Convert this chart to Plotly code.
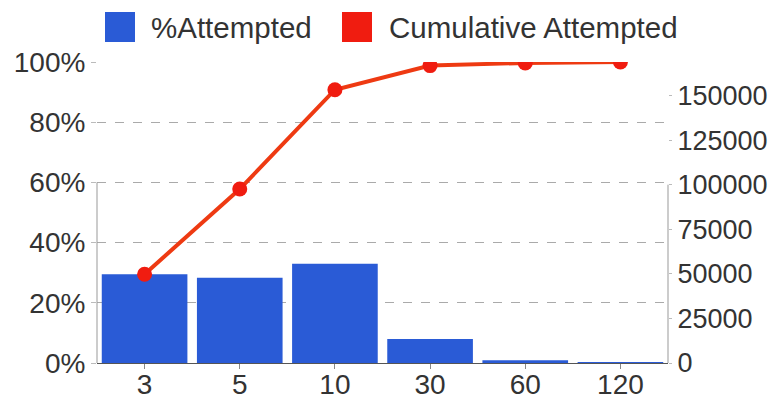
import plotly.graph_objects as go

categories = ["3", "5", "10", "30", "60", "120"]
pct_attempted = [29.5, 28.3, 33.0, 8.0, 0.9, 0.3]
cumulative_attempted = [29.5, 57.8, 90.8, 98.8, 99.7, 100.0]
left_ticks = [0, 20, 40, 60, 80, 100]
left_labels = ["0%", "20%", "40%", "60%", "80%", "100%"]
right_ticks = [0, 25000, 50000, 75000, 100000, 125000, 150000]
right_labels = ["0", "25000", "50000", "75000", "100000", "125000", "150000"]
right_max = 168800

BLUE = "#2a5bd6"
RED = "#f01c10"
FONT = "Liberation Sans, Arial, sans-serif"
TXT = "#333333"

# page body adds an 8px margin; size the figure so the page does not overflow
W, H = 761, 391
L, R, T, B = 89, 101, 54, 36
PW, PH = W - L - R, H - T - B


def px(x):  # window x -> paper x
    return (x - 8 - L) / PW


def py(y):  # window y -> paper y
    return (H - B - (y - 8)) / PH


fig = go.Figure()
fig.add_trace(go.Bar(x=categories, y=pct_attempted, name="%Attempted",
                     marker=dict(color=BLUE, line=dict(width=0)), showlegend=False))
fig.add_trace(go.Scatter(x=categories, y=cumulative_attempted, name="Cumulative Attempted",
                         mode="lines+markers", line=dict(color="#ee3a12", width=4),
                         marker=dict(color=RED, size=15), showlegend=False))
# invisible trace to activate right axis
fig.add_trace(go.Scatter(x=categories, y=[None]*len(categories), yaxis="y2",
                         showlegend=False, hoverinfo="skip"))

fig.update_layout(
    width=W, height=H,
    margin=dict(l=L, r=R, t=T, b=B, autoexpand=False),
    paper_bgcolor="white", plot_bgcolor="white",
    font=dict(family=FONT, size=28, color=TXT),
    bargap=0.1,
    xaxis=dict(type="category", showline=True, linecolor="#555", linewidth=1,
               ticks="outside", ticklen=5, tickcolor="#888", showgrid=False,
               ticklabelstandoff=-9,
               automargin=False, tickfont=dict(size=28, color=TXT)),
    yaxis=dict(range=[0, 100], tickvals=left_ticks, ticktext=left_labels,
               showgrid=True, gridcolor="#aaaaaa", griddash="9px,9px", gridwidth=1,
               zeroline=False, ticks="outside", ticklen=5, tickcolor="#bbb",
               automargin=False, tickfont=dict(size=28, color=TXT)),
    yaxis2=dict(range=[0, right_max], tickvals=right_ticks, ticktext=right_labels,
                overlaying="y", side="right",
                showgrid=False, zeroline=False, ticks="outside", ticklen=3, tickcolor="#bbb",
                automargin=False, tickfont=dict(size=27, color=TXT)),
    shapes=[
        dict(type="line", xref="paper", yref="y", x0=0, x1=0, y0=0, y1=60,
             line=dict(color="#999", width=1)),
        dict(type="line", xref="paper", yref="y2", x0=1, x1=1, y0=0, y1=100000,
             line=dict(color="#999", width=1)),
        dict(type="rect", xref="paper", yref="paper", x0=px(105), x1=px(135),
             y0=py(42), y1=py(12), fillcolor=BLUE, line=dict(width=0)),
        dict(type="rect", xref="paper", yref="paper", x0=px(342), x1=px(372),
             y0=py(42), y1=py(12), fillcolor=RED, line=dict(width=0)),
    ],
    annotations=[
        dict(text="%Attempted", xref="paper", yref="paper", x=px(149), y=py(27),
             xanchor="left", yanchor="middle", showarrow=False, font=dict(size=29.5, color=TXT)),
        dict(text="Cumulative Attempted", xref="paper", yref="paper", x=px(387),
             y=py(27), xanchor="left", yanchor="middle", showarrow=False,
             font=dict(size=29.5, color=TXT)),
    ],
)

fig.write_html("out.html")
